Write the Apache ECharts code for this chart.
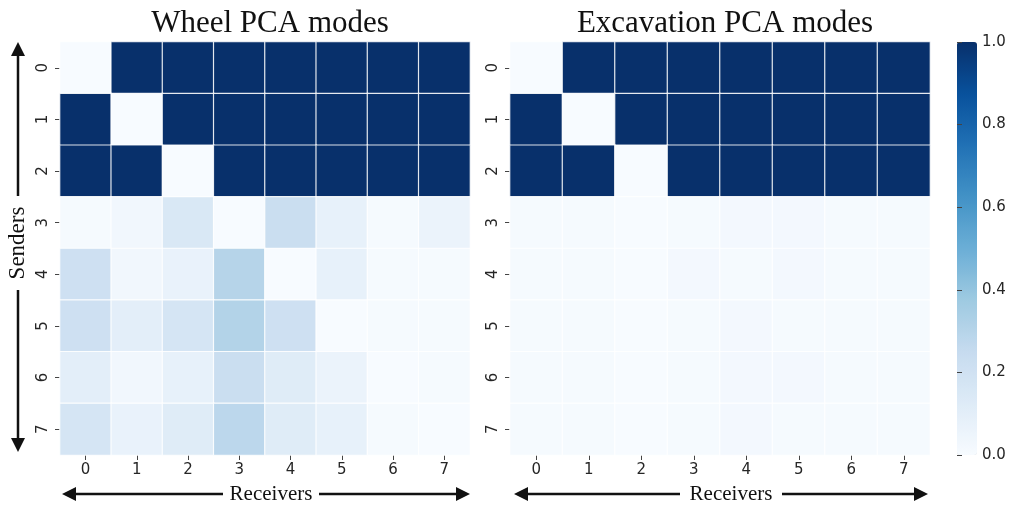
<!DOCTYPE html>
<html>
<head>
<meta charset="utf-8">
<script src="https://cdn.jsdelivr.net/npm/echarts@6/dist/echarts.min.js"></script>
<style>
  html, body { margin: 0; padding: 0; background: #fff; }
  #chart { width: 1018px; height: 510px; }
</style>
</head>
<body>
<div id="chart"></div>
<script>
// Sender / receiver indices
const receivers = ['0', '1', '2', '3', '4', '5', '6', '7'];
const senders = ['0', '1', '2', '3', '4', '5', '6', '7'];
const colorbarTicks = [0, 0.2, 0.4, 0.6, 0.8, 1.0];

// Wheel PCA modes: rows = senders, columns = receivers
const wheelRows = [
  [0.00, 1.00, 1.00, 1.00, 1.00, 1.00, 1.00, 1.00],
  [1.00, 0.00, 1.00, 1.00, 1.00, 1.00, 1.00, 1.00],
  [1.00, 1.00, 0.00, 1.00, 1.00, 1.00, 1.00, 1.00],
  [0.01, 0.03, 0.15, 0.00, 0.23, 0.08, 0.01, 0.06],
  [0.21, 0.03, 0.07, 0.30, 0.00, 0.08, 0.01, 0.01],
  [0.21, 0.10, 0.17, 0.31, 0.21, 0.00, 0.01, 0.01],
  [0.10, 0.03, 0.08, 0.23, 0.12, 0.06, 0.00, 0.01],
  [0.17, 0.07, 0.12, 0.28, 0.12, 0.08, 0.01, 0.00]
];

// Excavation PCA modes
const excavationRows = [
  [0.00, 1.00, 1.00, 1.00, 1.00, 1.00, 1.00, 1.00],
  [1.00, 0.00, 1.00, 1.00, 1.00, 1.00, 1.00, 1.00],
  [1.00, 1.00, 0.00, 1.00, 1.00, 1.00, 1.00, 1.00],
  [0.01, 0.01, 0.00, 0.01, 0.02, 0.02, 0.01, 0.01],
  [0.01, 0.01, 0.00, 0.02, 0.01, 0.02, 0.01, 0.01],
  [0.01, 0.01, 0.00, 0.01, 0.02, 0.01, 0.01, 0.01],
  [0.01, 0.01, 0.00, 0.01, 0.02, 0.02, 0.01, 0.01],
  [0.01, 0.01, 0.00, 0.01, 0.02, 0.01, 0.01, 0.01]
];

// matplotlib "Blues"
const blues = ['#f7fbff', '#deebf7', '#c6dbef', '#9ecae1', '#6baed6', '#4292c6', '#2171b5', '#08519c', '#08306b'];

function toCells(rows) {
  const out = [];
  rows.forEach((row, s) => row.forEach((v, r) => out.push([r, s, v])));
  return out;
}

const serif = '"Liberation Serif", "DejaVu Serif", serif';
const tickFont = '"Liberation Sans Narrow", "DejaVu Sans", sans-serif';

function xAxisFor(gridIndex) {
  return {
    type: 'category', gridIndex, data: receivers, position: 'bottom',
    axisLine: { show: false },
    axisTick: { show: true, alignWithLabel: true, length: 5, lineStyle: { color: '#444' } },
    axisLabel: { color: '#262626', fontSize: 15, fontFamily: tickFont, margin: 8 },
    splitLine: { show: false }
  };
}
function yAxisFor(gridIndex) {
  return {
    type: 'category', gridIndex, data: senders, inverse: true,
    axisLine: { show: false },
    axisTick: { show: true, alignWithLabel: true, length: 5, lineStyle: { color: '#444' } },
    axisLabel: { color: '#262626', fontSize: 15, fontFamily: 'DejaVu Sans, sans-serif', rotate: 90, margin: 9 },
    splitLine: { show: false }
  };
}

// Double-headed arrow pieces (horizontal or vertical), split around a caption
function hArrow(x1, x2, y, gapL, gapR) {
  const s = { stroke: '#111', lineWidth: 2.5 };
  return [
    { type: 'line', shape: { x1: x1 + 6, y1: y, x2: gapL, y2: y }, style: s },
    { type: 'line', shape: { x1: gapR, y1: y, x2: x2 - 6, y2: y }, style: s },
    { type: 'polygon', shape: { points: [[x1, y], [x1 + 14, y - 7], [x1 + 14, y + 7]] }, style: { fill: '#111' } },
    { type: 'polygon', shape: { points: [[x2, y], [x2 - 14, y - 7], [x2 - 14, y + 7]] }, style: { fill: '#111' } }
  ];
}
function vArrow(x, y1, y2, gapT, gapB) {
  const s = { stroke: '#111', lineWidth: 2.5 };
  return [
    { type: 'line', shape: { x1: x, y1: y1 + 6, x2: x, y2: gapT }, style: s },
    { type: 'line', shape: { x1: x, y1: gapB, x2: x, y2: y2 - 6 }, style: s },
    { type: 'polygon', shape: { points: [[x, y1], [x - 7, y1 + 14], [x + 7, y1 + 14]] }, style: { fill: '#111' } },
    { type: 'polygon', shape: { points: [[x, y2], [x - 7, y2 - 14], [x + 7, y2 - 14]] }, style: { fill: '#111' } }
  ];
}

const chart = echarts.init(document.getElementById('chart'));
chart.setOption({
  backgroundColor: '#ffffff',
  animation: false,
  title: [
    { text: 'Wheel PCA modes', left: 265, top: 3, textAlign: 'center',
      textStyle: { fontFamily: serif, fontSize: 31, fontWeight: 'normal', color: '#111' } },
    { text: 'Excavation PCA modes', left: 720, top: 3, textAlign: 'center',
      textStyle: { fontFamily: serif, fontSize: 31, fontWeight: 'normal', color: '#111' } }
  ],
  grid: [
    { left: 60, top: 42, width: 410, height: 413 },
    { left: 510, top: 42, width: 420, height: 413 },
    { left: 957, top: 42, width: 20, height: 413 }
  ],
  xAxis: [
    xAxisFor(0),
    xAxisFor(1),
    { type: 'value', gridIndex: 2, show: false, min: 0, max: 1 }
  ],
  yAxis: [
    yAxisFor(0),
    yAxisFor(1),
    { type: 'value', gridIndex: 2, position: 'right', min: 0, max: 1, interval: 0.2, z: 20,
      axisLine: { show: false }, splitLine: { show: false },
      axisTick: { show: true, length: 5, lineStyle: { color: '#444' } },
      axisLabel: { color: '#262626', fontSize: 15, fontFamily: 'DejaVu Sans, sans-serif', margin: 5,
        formatter: v => (colorbarTicks.some(t => Math.abs(t - v) < 1e-9) ? v.toFixed(1) : '') } }
  ],
  visualMap: {
    type: 'continuous', min: 0, max: 1, seriesIndex: [0, 1],
    inRange: { color: blues },
    left: 957, top: 42, itemWidth: 20, itemHeight: 413, z: 1,
    text: ['', ''], calculable: false, showLabel: false, hoverLink: false,
    orient: 'vertical', padding: 0
  },
  series: [
    { type: 'heatmap', xAxisIndex: 0, yAxisIndex: 0, data: toCells(wheelRows),
      itemStyle: { borderColor: 'rgba(255,255,255,0.85)', borderWidth: 1.2 } },
    { type: 'heatmap', xAxisIndex: 1, yAxisIndex: 1, data: toCells(excavationRows),
      itemStyle: { borderColor: 'rgba(255,255,255,0.85)', borderWidth: 1.2 } },
    { type: 'line', xAxisIndex: 2, yAxisIndex: 2, data: [], silent: true }
  ],
  graphic: [
    ...hArrow(62, 470, 494, 223, 319),
    { type: 'text', x: 271, y: 494, style: { text: 'Receivers', font: '21px ' + serif, fill: '#111', align: 'center', verticalAlign: 'middle' } },
    ...hArrow(514, 928, 494, 680, 782),
    { type: 'text', x: 731, y: 494, style: { text: 'Receivers', font: '21px ' + serif, fill: '#111', align: 'center', verticalAlign: 'middle' } },
    ...vArrow(18, 42, 452, 196, 290),
    { type: 'text', x: 18, y: 243, rotation: Math.PI / 2, style: { text: 'Senders', font: '23px ' + serif, fill: '#111', align: 'center', verticalAlign: 'middle' } }
  ]
});
</script>
</body>
</html>
